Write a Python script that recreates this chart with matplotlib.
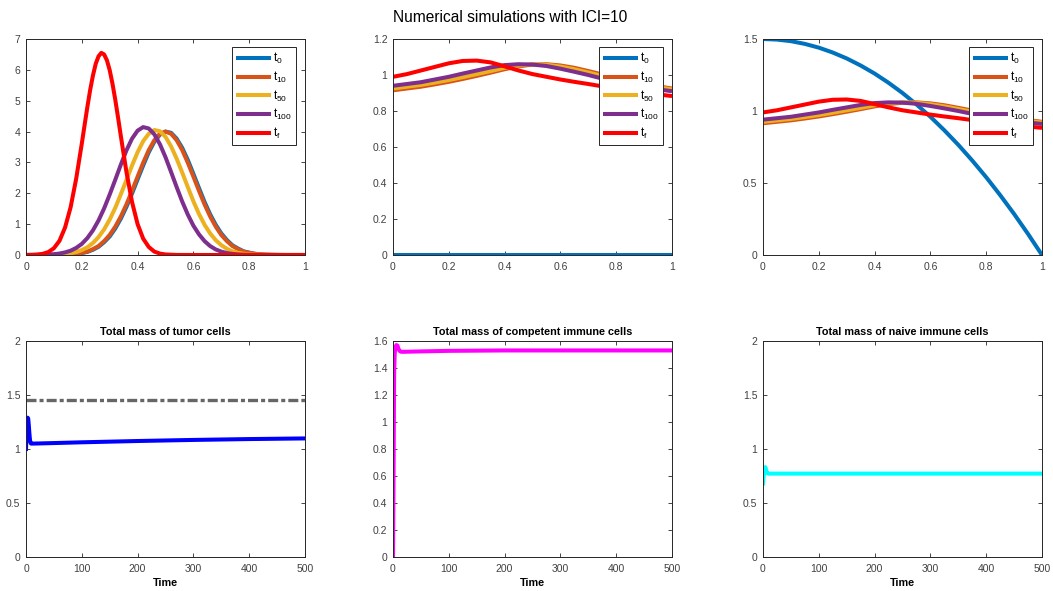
import numpy as np
import matplotlib
matplotlib.use('Agg')
import matplotlib.pyplot as plt
from matplotlib.ticker import FormatStrFormatter

plt.rcParams['font.family'] = ['Liberation Sans', 'DejaVu Sans']
plt.rcParams['mathtext.fontset'] = 'custom'
plt.rcParams['mathtext.rm'] = 'Liberation Sans'
plt.rcParams['lines.scale_dashes'] = False

# Spatial profiles -------------------------------------------------
# tumor density, x = 0:0.02:1
x_fine = np.linspace(0, 1, 51)
tumor_t0 = [0, 0, 0, 0, 0.001, 0.003, 0.006, 0.011, 0.02, 0.04,
            0.063, 0.10, 0.17, 0.265, 0.415, 0.60, 0.86, 1.18, 1.56, 1.99,
            2.45, 2.90, 3.33, 3.67, 3.90, 4.00, 3.96, 3.77, 3.47, 3.08,
            2.63, 2.17, 1.72, 1.32, 0.98, 0.70, 0.485, 0.315, 0.21, 0.12,
            0.077, 0.04, 0.02, 0.011, 0.006, 0.003, 0.001, 0, 0, 0, 0]
tumor_t10 = [0, 0, 0, 0, 0.001, 0.003, 0.006, 0.011, 0.02, 0.04,
             0.07, 0.11, 0.19, 0.29, 0.45, 0.65, 0.92, 1.25, 1.64, 2.08,
             2.54, 2.99, 3.40, 3.72, 3.93, 4.00, 3.93, 3.72, 3.40, 2.99,
             2.54, 2.08, 1.64, 1.25, 0.92, 0.65, 0.45, 0.29, 0.19, 0.11,
             0.07, 0.04, 0.02, 0.011, 0.006, 0.003, 0.001, 0, 0, 0, 0]
tumor_t50 = [0, 0, 0, 0.002, 0.004, 0.009, 0.017, 0.031, 0.055, 0.095,
             0.16, 0.25, 0.39, 0.58, 0.83, 1.15, 1.53, 1.97, 2.43, 2.90,
             3.33, 3.69, 3.93, 4.05, 4.01, 3.83, 3.52, 3.12, 2.67, 2.20,
             1.74, 1.33, 0.98, 0.70, 0.48, 0.32, 0.20, 0.12, 0.073, 0.041,
             0.023, 0.012, 0.006, 0.003, 0.001, 0, 0, 0, 0, 0, 0]
tumor_t100 = [0.001, 0.002, 0.004, 0.007, 0.014, 0.026, 0.047, 0.084, 0.14, 0.23,
              0.36, 0.55, 0.80, 1.12, 1.51, 1.96, 2.44, 2.93, 3.39, 3.77,
              4.03, 4.145, 4.10, 3.91, 3.59, 3.17, 2.69, 2.20, 1.73, 1.31,
              0.95, 0.67, 0.45, 0.29, 0.18, 0.11, 0.063, 0.035, 0.019, 0.01,
              0.005, 0.003, 0.001, 0, 0, 0, 0, 0, 0, 0, 0]
# final profile is sharper, sampled more densely around its peak
x_tf = [0, 0.02, 0.04, 0.06, 0.08, 0.10, 0.12, 0.14, 0.16, 0.18,
        0.20, 0.21, 0.22, 0.23, 0.24, 0.25, 0.26, 0.27, 0.28, 0.29,
        0.30, 0.31, 0.32, 0.33, 0.34, 0.36, 0.38, 0.40, 0.42, 0.44,
        0.46, 0.48, 0.50, 0.54, 0.60, 1.0]
tumor_tf = [0.001, 0.004, 0.014, 0.038, 0.095, 0.22, 0.46, 0.89, 1.55, 2.48,
            3.61, 4.21, 4.80, 5.35, 5.82, 6.20, 6.44, 6.55, 6.50, 6.31,
            5.99, 5.55, 5.03, 4.45, 3.85, 2.69, 1.72, 1.00, 0.53, 0.26,
            0.11, 0.046, 0.017, 0.002, 0, 0]

# immune densities, x = 0:0.05:1
x_coarse = np.linspace(0, 1, 21)
comp_t0 = [0] * 21
naive_t0 = [1.5, 1.496, 1.485, 1.466, 1.44, 1.406, 1.365, 1.316, 1.26, 1.196,
            1.125, 1.046, 0.96, 0.866, 0.765, 0.656, 0.54, 0.416, 0.285, 0.146, 0]
imm_t10 = [0.915, 0.925, 0.935, 0.948, 0.962, 0.978, 0.995, 1.013, 1.032, 1.048,
           1.058, 1.06, 1.053, 1.04, 1.022, 1.003, 0.985, 0.967, 0.951, 0.937, 0.925]
imm_t50 = [0.925, 0.935, 0.945, 0.958, 0.972, 0.988, 1.005, 1.022, 1.04, 1.053,
           1.06, 1.057, 1.047, 1.032, 1.014, 0.995, 0.977, 0.96, 0.945, 0.932, 0.92]
imm_t100 = [0.94, 0.95, 0.96, 0.975, 0.99, 1.008, 1.025, 1.042, 1.055, 1.06,
            1.058, 1.05, 1.035, 1.018, 1.0, 0.98, 0.963, 0.948, 0.933, 0.92, 0.91]
imm_tf = [0.99, 1.005, 1.025, 1.045, 1.065, 1.078, 1.08, 1.07, 1.048, 1.025,
          1.005, 0.99, 0.975, 0.962, 0.95, 0.937, 0.926, 0.915, 0.903, 0.892, 0.883]

# Total masses over time -------------------------------------------
t_tumor = [0, 1, 2, 3, 4, 5, 6, 7, 8, 9, 10, 20, 50, 100, 150, 200, 250, 300, 350, 400, 450, 500]
mass_tumor = [1.0, 1.12, 1.24, 1.29, 1.28, 1.22, 1.15, 1.09, 1.06, 1.05, 1.05,
              1.051, 1.055, 1.062, 1.068, 1.074, 1.079, 1.084, 1.088, 1.092, 1.095, 1.098]
tumor_ref = 1.455

t_comp = [0, 1, 2, 3, 4, 6, 8, 10, 12, 15, 20, 50, 100, 200, 300, 400, 500]
mass_comp = [0, 0.6, 1.35, 1.5, 1.55, 1.57, 1.565, 1.54, 1.525, 1.52, 1.52,
             1.523, 1.527, 1.53, 1.53, 1.53, 1.53]

t_naive = [0, 1, 2, 3, 4, 5, 6, 7, 8, 10, 20, 100, 200, 300, 400, 500]
mass_naive = [0.68, 0.74, 0.79, 0.825, 0.832, 0.82, 0.80, 0.785, 0.775, 0.772,
              0.772, 0.772, 0.772, 0.772, 0.772, 0.772]

labels = [r'$\mathregular{t_{0}}$', r'$\mathregular{t_{10}}$', r'$\mathregular{t_{50}}$',
          r'$\mathregular{t_{100}}$', r'$\mathregular{t_{f}}$']
colors = ['#0072BD', '#D95319', '#EDB120', '#7E2F8E', '#FF0000']
axcol = '#262626'

fig = plt.figure(figsize=(10.53, 5.91), dpi=100)
W, H = 1053, 591
lefts = [26, 393, 763]
aw, ah = 279, 216

def make_ax(left, bottom_px):
    ax = fig.add_axes([left / W, 1 - bottom_px / H, aw / W, ah / H])
    ax.tick_params(direction='in', top=True, right=True, length=3, width=0.6,
                   labelsize=7.5, colors=axcol, labelcolor='#404040')
    ax.tick_params(axis='x', pad=5)
    ax.tick_params(axis='y', pad=4)
    for s in ax.spines.values():
        s.set_color(axcol)
        s.set_linewidth(0.7)
    ax.xaxis.set_major_formatter(FormatStrFormatter('%g'))
    ax.yaxis.set_major_formatter(FormatStrFormatter('%g'))
    return ax

def profile_panel(ax, xs, curves, ymax, yticks):
    for x, y, c, lab in zip(xs, curves, colors, labels):
        ax.plot(x, y, color=c, lw=2.9, label=lab, solid_capstyle='butt')
    ax.set_xlim(0, 1)
    ax.set_ylim(0, ymax)
    ax.set_xticks(np.arange(0, 1.01, 0.2))
    ax.set_yticks(yticks)
    leg = ax.legend(loc='upper right', bbox_to_anchor=(0.968, 0.963), borderaxespad=0,
                    fontsize=8.5, handlelength=2.9, handletextpad=0.2, labelspacing=0.3,
                    fancybox=False, framealpha=1, borderpad=0.35)
    leg.get_frame().set_edgecolor(axcol)
    leg.get_frame().set_linewidth(0.7)

ax1 = make_ax(lefts[0], 255)
profile_panel(ax1, [x_fine] * 4 + [x_tf],
              [tumor_t0, tumor_t10, tumor_t50, tumor_t100, tumor_tf], 7, np.arange(0, 8, 1))
ax2 = make_ax(lefts[1], 255)
profile_panel(ax2, [x_coarse] * 5,
              [comp_t0, imm_t10, imm_t50, imm_t100, imm_tf], 1.2, np.arange(0, 1.21, 0.2))
ax3 = make_ax(lefts[2], 255)
profile_panel(ax3, [x_coarse] * 5,
              [naive_t0, imm_t10, imm_t50, imm_t100, imm_tf], 1.5, np.arange(0, 1.51, 0.5))

def mass_panel(ax, title, ymax, yticks):
    ax.set_xlim(0, 500)
    ax.set_ylim(0, ymax)
    ax.set_xticks(np.arange(0, 501, 100))
    ax.set_yticks(yticks)
    ax.set_title(title, fontsize=7.8, fontweight='bold', color='black', pad=4)
    ax.set_xlabel('Time', fontsize=7.8, fontweight='bold', color='black', labelpad=3)

ax4 = make_ax(lefts[0], 557)
ax4.plot([0, 500], [tumor_ref, tumor_ref], color='#666666', lw=2.4, dashes=(7.2, 2.2, 2.9, 2.2))
ax4.plot(t_tumor, mass_tumor, color='#0000FF', lw=2.9)
mass_panel(ax4, 'Total mass of tumor cells', 2, np.arange(0, 2.01, 0.5))

ax5 = make_ax(lefts[1], 557)
ax5.plot(t_comp, mass_comp, color='#FF00FF', lw=2.9)
mass_panel(ax5, 'Total mass of competent immune cells', 1.6, np.arange(0, 1.61, 0.2))

ax6 = make_ax(lefts[2], 557)
ax6.plot(t_naive, mass_naive, color='#00FFFF', lw=2.9)
mass_panel(ax6, 'Total mass of naive immune cells', 2, np.arange(0, 2.01, 0.5))

fig.text(510 / W, 1 - 17 / H, 'Numerical simulations with ICI=10', ha='center', va='center',
         fontsize=11.2, color='black')

fig.savefig('out.png', dpi=100)
